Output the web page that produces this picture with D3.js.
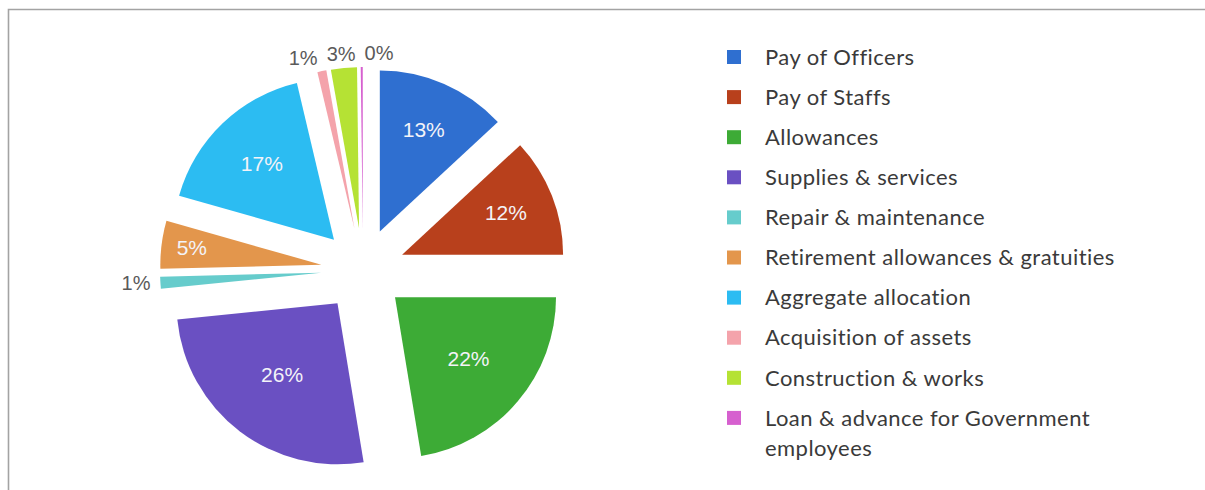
<!DOCTYPE html>
<html>
<head>
<meta charset="utf-8">
<script src="https://cdn.jsdelivr.net/npm/d3@7"></script>
<style>
  html, body { margin: 0; padding: 0; background: #ffffff; }
  svg { display: block; }
</style>
</head>
<body>
<script>
// Expenditure heads, in the order the slices run clockwise from 12 o'clock
const categories = [
  "Pay of Officers",
  "Pay of Staffs",
  "Allowances",
  "Supplies & services",
  "Repair & maintenance",
  "Retirement allowances & gratuities",
  "Aggregate allocation",
  "Acquisition of assets",
  "Construction & works",
  "Loan & advance for Government employees"
];

// Share of the budget, in percent
const shares = [13.1, 11.9, 22.4, 26.0, 1.2, 4.8, 16.9, 0.9, 2.6, 0.2];

const sliceColors = [
  "#2f6fd0", "#b8401c", "#3dab36", "#6a50c2", "#66cccc",
  "#e3964c", "#2cbcf2", "#f4a3ab", "#b5e234", "#d660cf"
];

const W = 1205, H = 490;
const cx = 363, cy = 270, R = 161, explode = 42;

const data = categories.map((name, i) => ({ name, value: shares[i], color: sliceColors[i] }));
const total = d3.sum(shares);
const pct = d3.format(".0%");

const svg = d3.select("body").append("svg")
  .attr("width", W).attr("height", H);

// frame lines along the top and left edges
svg.append("path")
  .attr("d", `M8.5,${H} V9.5 H${W}`)
  .attr("fill", "none")
  .attr("stroke", "#a3a3a3")
  .attr("stroke-width", 1.6);

const pie = d3.pie().sort(null).value(d => d.value);
const arcs = pie(data);
const arc = d3.arc().innerRadius(0).outerRadius(R);

const g = svg.append("g").attr("transform", `translate(${cx},${cy})`);

// every slice is pulled out along its own bisector
arcs.forEach(a => {
  a.mid = (a.startAngle + a.endAngle) / 2;
  a.ux = Math.sin(a.mid);
  a.uy = -Math.cos(a.mid);
  a.ox = a.ux * explode;
  a.oy = a.uy * explode;
  a.frac = a.data.value / total;
});

g.selectAll("path.slice")
  .data(arcs)
  .join("path")
  .attr("class", "slice")
  .attr("d", arc)
  .attr("transform", a => `translate(${a.ox},${a.oy})`)
  .attr("fill", a => a.data.color);

// data labels: inside the larger slices, outside the thin ones
const labelFont = "'Liberation Sans', Arial, sans-serif";
const inside = arcs.filter(a => a.frac >= 0.04);
const outside = arcs.filter(a => a.frac < 0.04);

inside.forEach(a => {
  const t = g.append("text")
    .attr("font-family", labelFont)
    .attr("font-size", 21)
    .attr("fill", "#f3f3f8")
    .attr("text-anchor", "middle")
    .attr("dy", "0.3em")
    .text(pct(a.frac));
  const w = t.node().getComputedTextLength();
  const theta = a.endAngle - a.startAngle;
  const rho = Math.min(R * 0.88, Math.max(R * (0.8 - 0.9 * a.frac), (w + 9) / theta));
  t.attr("x", a.ox + a.ux * rho).attr("y", a.oy + a.uy * rho);
});

const outs = outside.map(a => {
  let anchor = "middle";
  if (a.ux < -0.3) anchor = "end";
  else if (a.ux > 0.3) anchor = "start";
  const dist = anchor === "middle" ? R + 14 : R + 10;
  const t = g.append("text")
    .attr("font-family", labelFont)
    .attr("font-size", 20)
    .attr("fill", "#5a5a5a")
    .attr("text-anchor", anchor)
    .attr("dy", "0.35em")
    .text(pct(a.frac));
  return {
    t, anchor,
    w: t.node().getComputedTextLength(),
    x: a.ox + a.ux * dist,
    y: a.oy + a.uy * dist
  };
});

// spread the centred labels sideways so neighbours do not collide
const centred = outs.filter(o => o.anchor === "middle").sort((p, q) => p.x - q.x);
for (let iter = 0; iter < 200; iter++) {
  let moved = false;
  for (let i = 1; i < centred.length; i++) {
    const p = centred[i - 1], q = centred[i];
    const need = (p.w + q.w) / 2 + 9;
    const gap = q.x - p.x;
    if (gap < need - 0.01) {
      const push = (need - gap) / 2;
      p.x -= push; q.x += push;
      moved = true;
    }
  }
  if (!moved) break;
}
outs.forEach(o => o.t.attr("x", o.x).attr("y", o.y));

// legend
const legend = svg.append("g").attr("transform", "translate(727,0)");
const legendFont = "Lato, 'Open Sans', sans-serif";
const rowY0 = 57, rowStep = 40.1, lineStep = 30, textX = 38, wrapWidth = 380;

data.forEach((d, i) => {
  const y = rowY0 + i * rowStep;
  legend.append("rect")
    .attr("x", 0).attr("y", y - 7)
    .attr("width", 14).attr("height", 14)
    .attr("fill", d.color);

  const text = legend.append("text")
    .attr("font-family", legendFont)
    .attr("font-size", 22)
    .attr("letter-spacing", 0.45)
    .attr("fill", "#3a3a3a")
    .attr("x", textX).attr("y", y);

  // wrap long names over several lines
  const words = d.name.split(" ");
  let line = [];
  let lineNo = 0;
  let tspan = text.append("tspan").attr("x", textX).attr("y", y).attr("dy", "0.35em");
  words.forEach(word => {
    line.push(word);
    tspan.text(line.join(" "));
    if (tspan.node().getComputedTextLength() > wrapWidth && line.length > 1) {
      line.pop();
      tspan.text(line.join(" "));
      line = [word];
      lineNo += 1;
      tspan = text.append("tspan")
        .attr("x", textX)
        .attr("y", y + lineNo * lineStep)
        .attr("dy", "0.35em")
        .text(word);
    }
  });
});
</script>
</body>
</html>
